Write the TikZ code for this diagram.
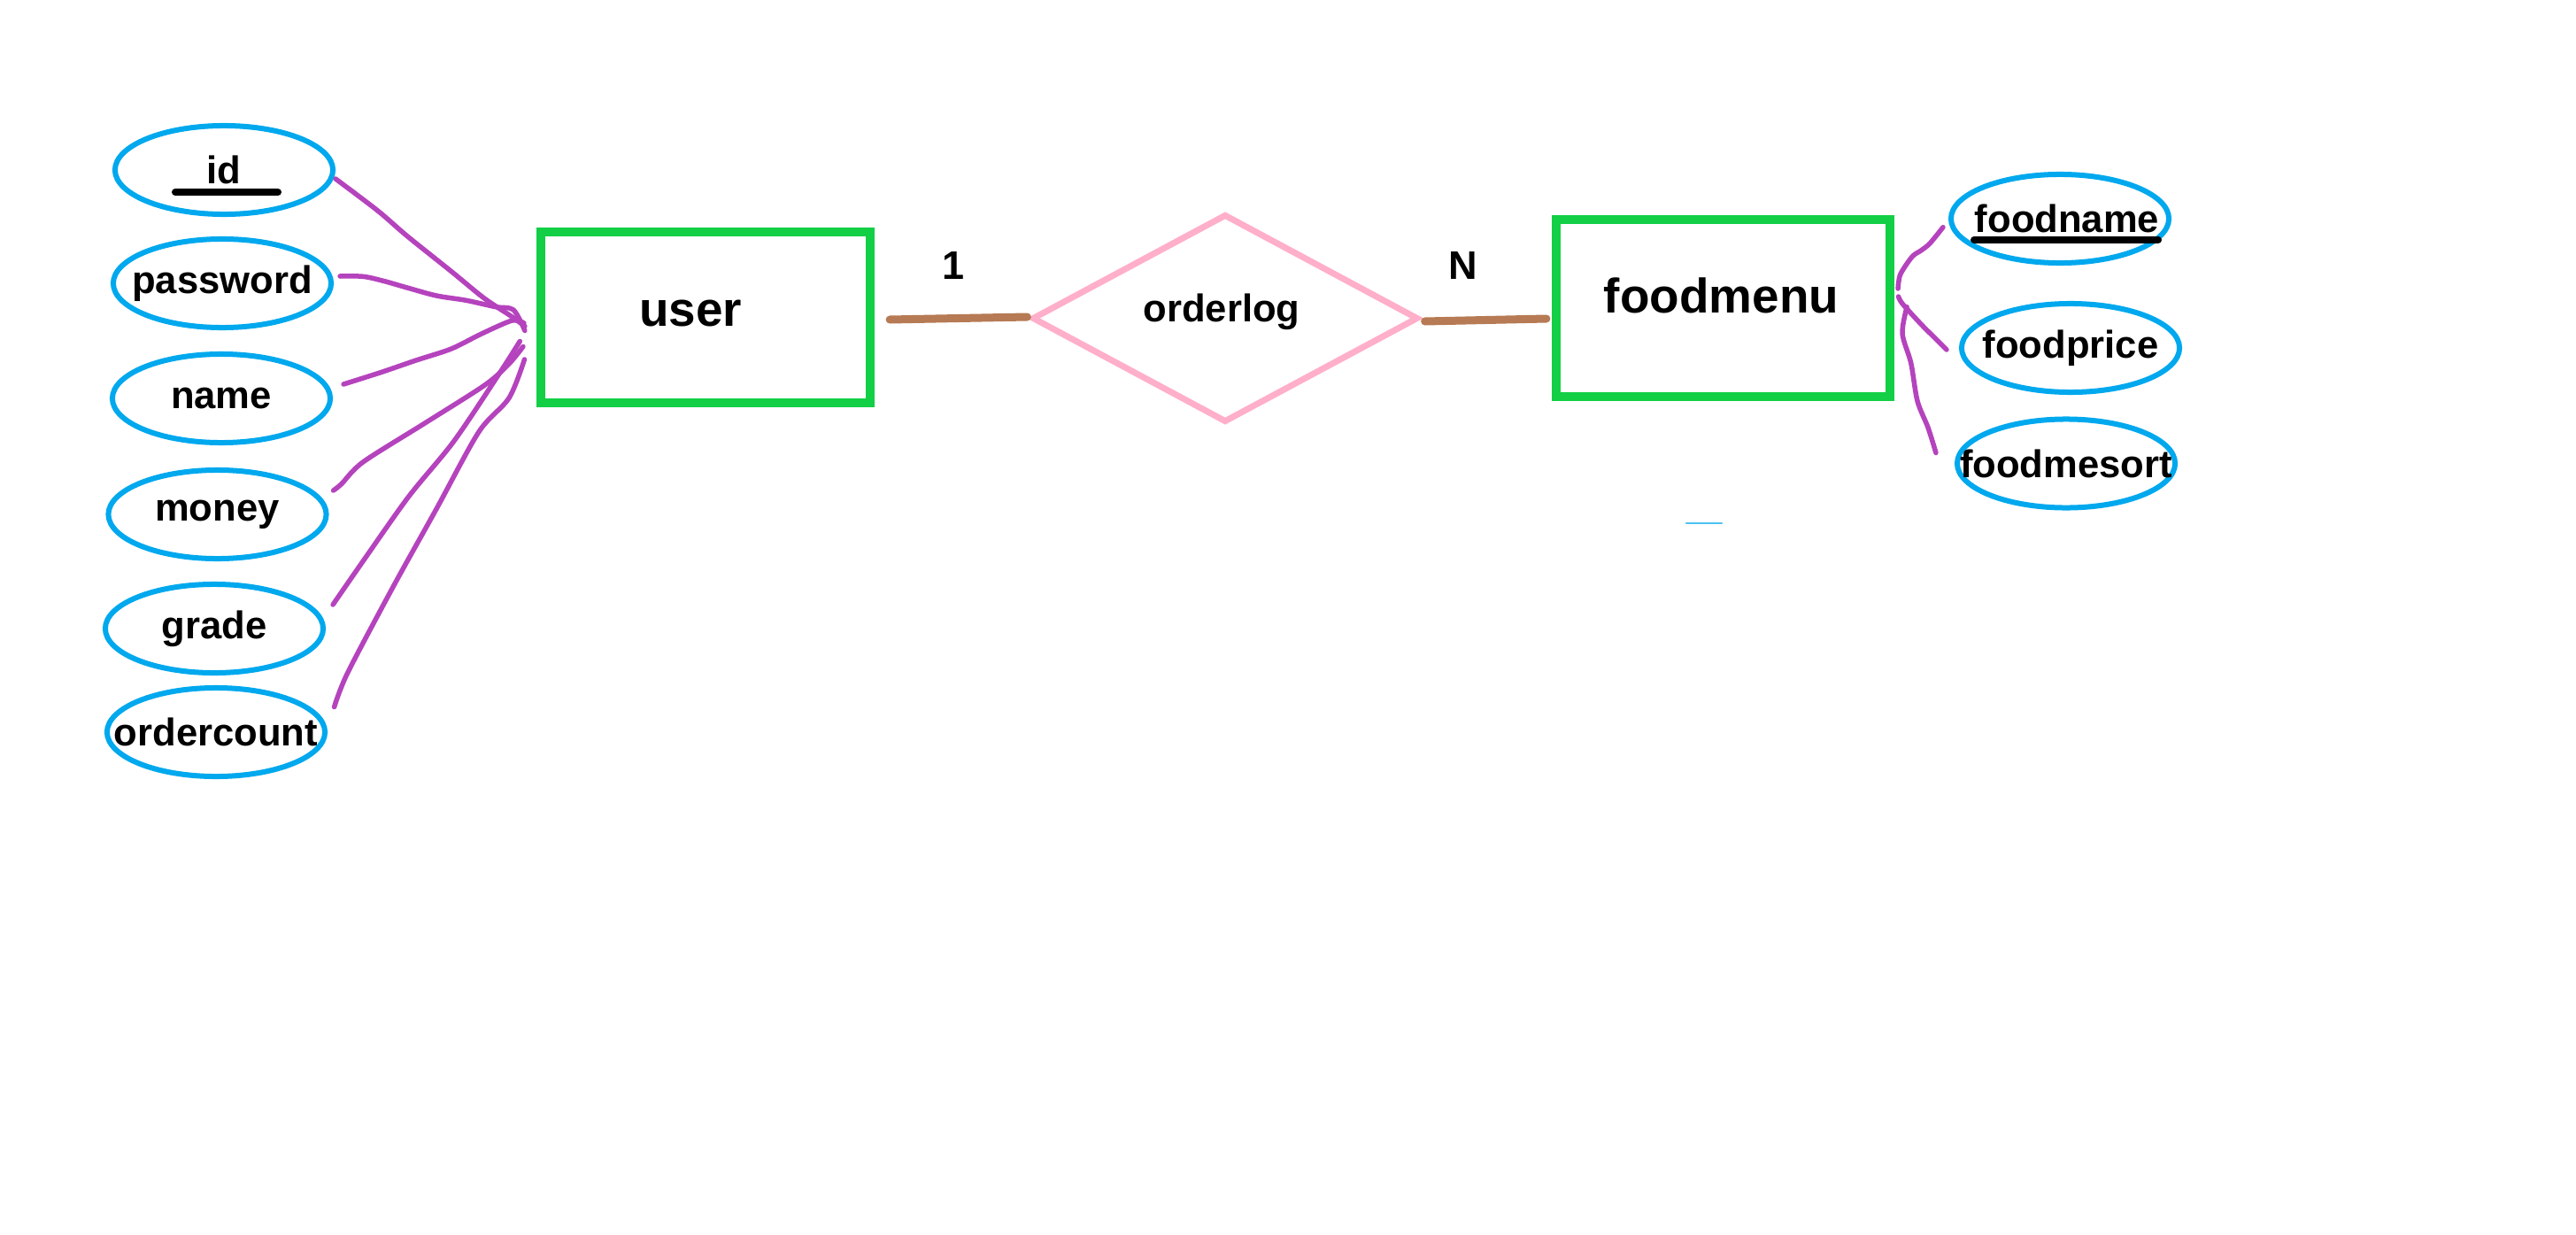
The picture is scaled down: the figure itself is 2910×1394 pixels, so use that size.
\documentclass[tikz,border=0pt]{standalone}
\usepackage{fontspec}
\setmainfont{Liberation Sans}
\usetikzlibrary{shapes.geometric,calc}
\definecolor{attrblue}{HTML}{00A8EE}
\definecolor{entgreen}{HTML}{12CF46}
\definecolor{relpink}{HTML}{FFAFC9}
\definecolor{linkbrown}{HTML}{B67A54}
\definecolor{attrpurple}{HTML}{B543BD}
\begin{document}
\begin{tikzpicture}[x=0.01cm,y=-0.01cm,
 attr/.style={ellipse, draw=attrblue, line width=0.06cm, minimum width=2.46cm, minimum height=1.0cm, inner sep=0pt},
 atext/.style={font=\fontsize{12.4}{14}\selectfont\bfseries, inner sep=0pt},
 entity/.style={rectangle, draw=entgreen, line width=0.1cm, inner sep=0pt},
 etext/.style={font=\fontsize{15.6}{18}\selectfont\bfseries, inner sep=0pt},
 relshape/.style={diamond, draw=relpink, line width=0.07cm, inner sep=0pt, minimum width=4.36cm, minimum height=2.35cm},
 rtext/.style={font=\fontsize{12.4}{14}\selectfont\bfseries, inner sep=0pt},
 card/.style={font=\fontsize{12.8}{14}\selectfont\bfseries, inner sep=0pt},
 link/.style={draw=linkbrown, line width=0.09cm, line cap=round},
 attrline/.style={draw=attrpurple, line width=0.055cm, line cap=round, line join=round},
 keyline/.style={draw=black, line width=0.08cm, line cap=round}]
\fill[white] (0,0) rectangle (2910,1394);
\useasboundingbox (0,0) rectangle (2910,1394);

% attributes of user
\node[attr, label={[atext]center:id}] (id) at (253,192) {};
\node[attr, label={[atext]center:password}] (pw) at (251,320) {};
\node[attr, label={[atext]center:name}] (nm) at (250,450) {};
\node[attr, label={[atext]center:money}] (mo) at (245.5,581) {};
\node[attr, label={[atext]center:grade}] (gr) at (242,710) {};
\node[attr, label={[atext]center:ordercount}] (oc) at (244,827) {};
\draw[keyline] ($(id.center)+(-55,25)$) -- ($(id.center)+(61,25)$);

% entities
\node[entity, minimum width=3.72cm, minimum height=1.93cm] (user) at (797,358.5) {};
\node[etext] (usertext) at (780,354) {user};
\node[entity, minimum width=3.77cm, minimum height=2.0cm] (fm) at (1946.5,348) {};
\node[etext] (fmtext) at (1944.5,334) {foodmenu};

% relationship
\node[relshape] (rel) at (1384,359.5) {};
\node[rtext] (reltext) at (1380,352) {orderlog};
\node[card] (c1) at (1077,300) {1};
\node[card] (cn) at (1653,300) {N};

% attributes of foodmenu
\node[attr, label={[atext,xshift=0.08cm]center:foodname}] (fn) at (2327,247) {};
\node[attr, label={[atext]center:foodprice}] (fp) at (2339,393) {};
\node[attr, label={[atext]center:foodmesort}] (fs) at (2334,523.5) {};
\draw[keyline] ($(fn.center)+(-97,24)$) -- ($(fn.center)+(111,24)$);

% brown relationship links
\draw[link] ($(user.east)+(17,2.5)$) -- ($(rel.west)+(-2,-1.5)$);
\draw[link] ($(rel.east)+(4,3.5)$) -- ($(fm.west)+(-6,12)$);

% purple attribute links (user)
\coordinate (sid) at ($(id.east)+(0,10)$);
\coordinate (eid) at ($(user.west)+(-13,10)$);
\draw[attrline] plot[smooth,tension=0.5] coordinates {(sid) (426.7,238) (460,266.7) (510,306.7) (546.7,336.7) (576.7,356.7) (eid)};
\coordinate (spw) at ($(pw.east)+(7,-8)$);
\coordinate (epw) at ($(user.west)+(-13,15)$);
\draw[attrline] plot[smooth,tension=0.5] coordinates {(spw) (410,312.3) (433,317.3) (460,325) (493,334) (526.7,339.3) (560,346.7) (580,350) (epw)};
\coordinate (snm) at ($(nm.east)+(12,-16)$);
\coordinate (enm) at ($(user.west)+(-14,6.5)$);
\draw[attrline] plot[smooth,tension=0.5] coordinates {(snm) (430.6,420.5) (470,407) (509.8,394) (544,377) (578.6,362) (enm)};
\coordinate (smo) at ($(mo.east)+(5,-27)$);
\coordinate (emo) at ($(user.west)+(-15,33)$);
\draw[attrline] plot[smooth,tension=0.5] coordinates {(smo) (385.8,546.6) (410,522) (478.8,478.7) (547.6,435) (575,411) (emo)};
\coordinate (sgr) at ($(gr.east)+(8,-27)$);
\coordinate (egr) at ($(user.west)+(-18.6,27)$);
\draw[attrline] plot[smooth,tension=0.5] coordinates {(sgr) (410,634) (461.6,561) (513,498) (565,420.5) (egr)};
\coordinate (soc) at ($(oc.east)+(7.5,-28.4)$);
\coordinate (eoc) at ($(user.west)+(-13.4,47.5)$);
\draw[attrline] plot[smooth,tension=0.5] coordinates {(soc) (392.7,760) (444,663) (492.6,575.6) (540.8,488) (575,449.6) (eoc)};

% purple attribute links (foodmenu)
\coordinate (sfn) at ($(fm.east)+(4,-22)$);
\coordinate (efn) at ($(fn.west)+(-6,9.7)$);
\draw[attrline] plot[smooth,tension=0.5] coordinates {(sfn) (2146.7,310) (2160,290) (2170,283) (2180,275) (efn)};
\coordinate (sfp) at ($(fm.east)+(4.5,-13)$);
\coordinate (efp) at ($(fp.west)+(-14,2)$);
\draw[attrline] plot[smooth,tension=0.5] coordinates {(sfp) (2149,343) (2170.6,366.7) (2187,383) (efp)};
\coordinate (sfs) at ($(fm.east)+(14,-1.3)$);
\coordinate (efs) at ($(fs.west)+(-21,-12)$);
\draw[attrline] plot[smooth,tension=0.5] coordinates {(sfs) (2149,376.7) (2158.7,410) (2166,453) (2178,483) (efs)};

% small stray mark
\draw[attrblue!70, line width=0.025cm, line cap=round] (1905,591) -- (1945,591);
\end{tikzpicture}
\end{document}
